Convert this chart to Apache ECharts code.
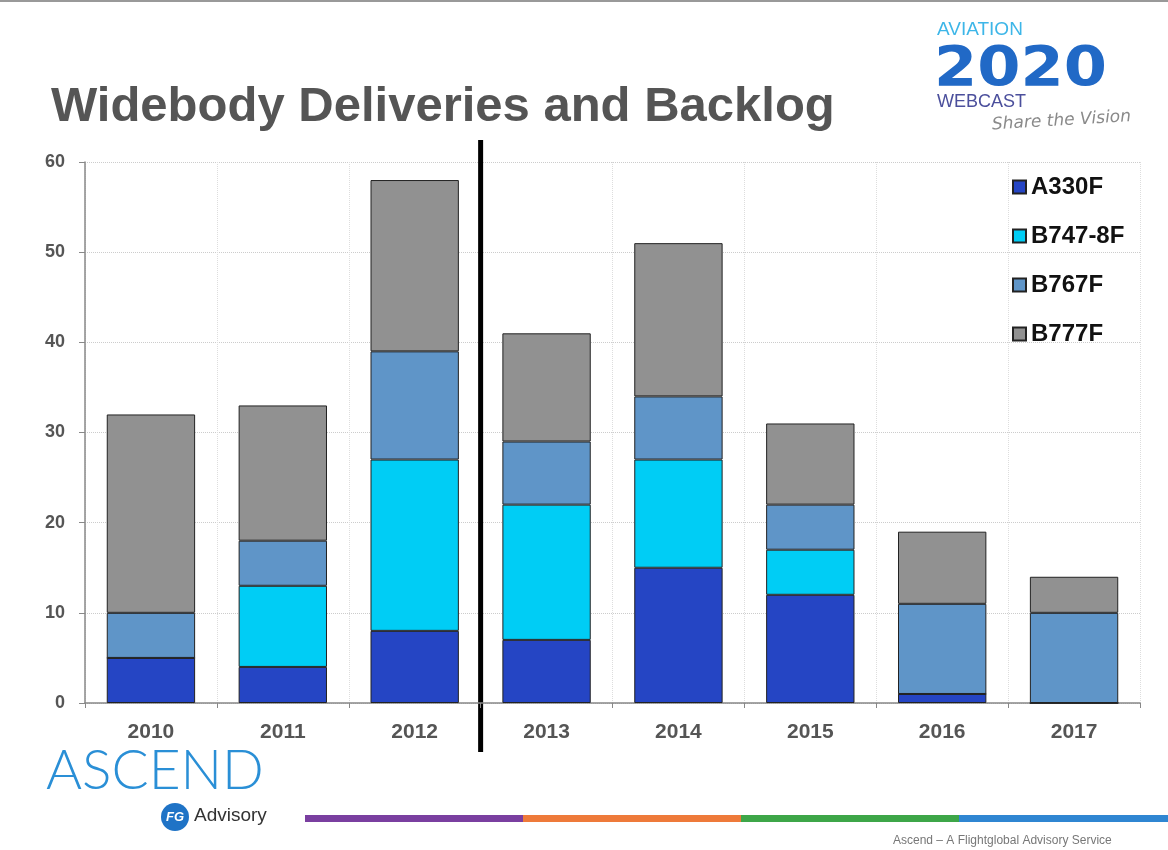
<!DOCTYPE html>
<html style="height: 100%">
<head>
<meta charset="utf-8">
</head>
<body style="height: 100%; margin: 0; background: #fff">
<div id="container" style="width: 1168px; height: 850px"></div>
<script src="https://cdn.jsdelivr.net/npm/echarts@6/dist/echarts.min.js"></script>
<script type="text/javascript">
var years = ['2010', '2011', '2012', '2013', '2014', '2015', '2016', '2017'];
var a330f = [5, 4, 8, 7, 15, 12, 1, 0];
var b7478f = [0, 9, 19, 15, 12, 5, 0, 0];
var b767f = [5, 5, 12, 7, 7, 5, 10, 10];
var b777f = [22, 15, 19, 12, 17, 9, 8, 4];
var seriesNames = ['A330F', 'B747-8F', 'B767F', 'B777F'];
var seriesColors = ['#2545c4', '#00cdf5', '#5f95c8', '#919191'];

var dom = document.getElementById('container');
var myChart = echarts.init(dom);
var option;

function barSeries(i, data) {
    return {
        name: seriesNames[i],
        type: 'bar',
        stack: 'total',
        barCategoryGap: '33%',
        data: data,
        itemStyle: {
            color: seriesColors[i],
            borderColor: '#222',
            borderWidth: 1
        }
    };
}

option = {
    animation: false,
    backgroundColor: '#fff',
    title: {
        text: 'Widebody Deliveries and Backlog',
        left: 46,
        top: 78,
        textStyle: {
            fontFamily: 'Liberation Sans, Arial, sans-serif',
            fontWeight: 'bold',
            fontSize: 49,
            color: '#555'
        }
    },
    legend: {
        orient: 'vertical',
        left: 1007,
        top: 170,
        itemWidth: 13,
        itemHeight: 13,
        itemGap: 25,
        icon: 'rect',
        textStyle: {
            fontFamily: 'Liberation Sans, Arial, sans-serif',
            fontWeight: 'bold',
            fontSize: 24,
            color: '#111'
        },
        data: seriesNames
    },
    grid: {
        left: 85,
        right: 28,
        top: 162,
        bottom: 147
    },
    xAxis: {
        type: 'category',
        data: years,
        axisLine: { lineStyle: { color: '#888', width: 1.5 } },
        axisTick: { show: true, length: 5, lineStyle: { color: '#888' } },
        splitLine: { show: true, lineStyle: { color: '#ddd', type: 'dotted' } },
        axisLabel: {
            margin: 19,
            fontFamily: 'Liberation Sans, Arial, sans-serif',
            fontWeight: 'bold',
            fontSize: 21,
            color: '#555'
        }
    },
    yAxis: {
        type: 'value',
        min: 0,
        max: 60,
        interval: 10,
        axisLine: { show: true, lineStyle: { color: '#888', width: 1.5 } },
        axisTick: { show: true, length: 6, lineStyle: { color: '#888' } },
        splitLine: { lineStyle: { color: '#ccc', type: 'dotted' } },
        axisLabel: {
            margin: 20,
            fontFamily: 'Liberation Sans, Arial, sans-serif',
            fontWeight: 'bold',
            fontSize: 18,
            color: '#555'
        }
    },
    series: [
        barSeries(0, a330f),
        barSeries(1, b7478f),
        barSeries(2, b767f),
        barSeries(3, b777f)
    ]
};

myChart.setOption(option);

// divider between 2012 and 2013, logos and footer
var xa = myChart.convertToPixel({ xAxisIndex: 0 }, '2012');
var xb = myChart.convertToPixel({ xAxisIndex: 0 }, '2013');
var divX = (xa + xb) / 2;

myChart.setOption({
    graphic: [
        { type: 'line', shape: { x1: 0, y1: 1, x2: 1168, y2: 1 }, style: { stroke: '#999', lineWidth: 2 } },
        { type: 'line', shape: { x1: divX, y1: 140, x2: divX, y2: 752 }, style: { stroke: '#000', lineWidth: 5 } },
        {
            type: 'text', left: 937, top: 20,
            style: { text: 'AVIATION', fontFamily: 'Liberation Sans, Arial, sans-serif', fontSize: 19, fill: '#3db6e8' }
        },
        {
            type: 'text', x: 934, y: 71, scaleX: 1.13,
            style: { text: '2020', fontFamily: 'DejaVu Sans, sans-serif', fontWeight: 'bold', fontSize: 55, fill: '#2169c6', verticalAlign: 'middle' }
        },
        {
            type: 'text', left: 937, top: 93,
            style: { text: 'WEBCAST', fontFamily: 'Liberation Sans, Arial, sans-serif', fontSize: 18, fill: '#4b4f9c' }
        },
        {
            type: 'text', x: 992, y: 125, rotation: 0.06,
            style: { text: 'Share the Vision', fontFamily: 'DejaVu Sans, sans-serif', fontStyle: 'italic', fontSize: 17, fill: '#8a8a8a', verticalAlign: 'middle' }
        },
        {
            type: 'text', left: 46, top: 744,
            style: { text: 'ASCEND', fontFamily: 'Lato, Open Sans, sans-serif', fontWeight: 300, fontSize: 55, fill: '#2a8fd6' }
        },
        {
            type: 'circle', shape: { cx: 175, cy: 817, r: 14 },
            style: { fill: '#1f73c6' }
        },
        {
            type: 'text', x: 175, y: 817,
            style: { text: 'FG', fontFamily: 'Liberation Sans, Arial, sans-serif', fontWeight: 'bold', fontStyle: 'italic', fontSize: 13, fill: '#fff', align: 'center', verticalAlign: 'middle' }
        },
        {
            type: 'text', left: 194, top: 806,
            style: { text: 'Advisory', fontFamily: 'Liberation Sans, Arial, sans-serif', fontSize: 19, fill: '#333' }
        },
        { type: 'rect', shape: { x: 305, y: 815, width: 218, height: 7 }, style: { fill: '#7a3fa0' } },
        { type: 'rect', shape: { x: 523, y: 815, width: 218, height: 7 }, style: { fill: '#ee7a3a' } },
        { type: 'rect', shape: { x: 741, y: 815, width: 218, height: 7 }, style: { fill: '#3da648' } },
        { type: 'rect', shape: { x: 959, y: 815, width: 209, height: 7 }, style: { fill: '#2f86d2' } },
        {
            type: 'text', left: 893, top: 835,
            style: { text: 'Ascend \u2013 A Flightglobal Advisory Service', fontFamily: 'Liberation Sans, Arial, sans-serif', fontSize: 12, fill: '#777' }
        }
    ]
});
</script>
</body>
</html>
